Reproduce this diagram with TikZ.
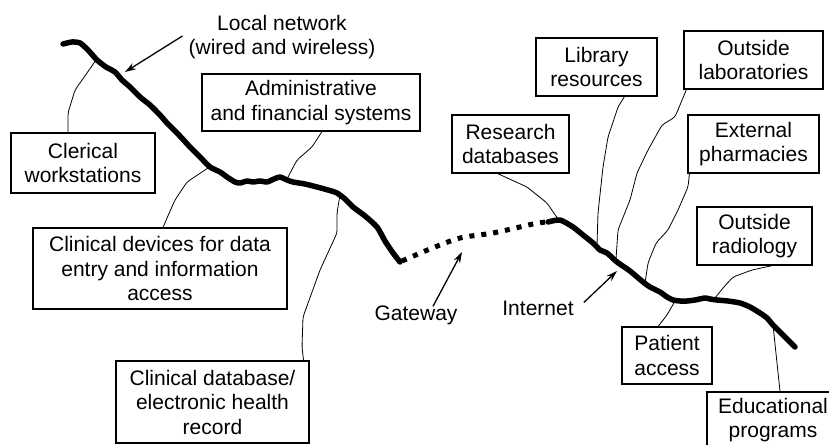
\documentclass[tikz,border=0pt]{standalone}
\usepackage{fontspec}
\setmainfont{Liberation Sans}
\usetikzlibrary{arrows.meta}
\begin{document}
\begin{tikzpicture}[x=1pt,y={(0pt,-1pt)},
  box/.style={draw,line width=1.1pt,align=center,inner sep=0pt,
    font=\fontsize{21}{24.5}\selectfont},
  lbl/.style={align=center,inner sep=1pt,font=\fontsize{21}{24.5}\selectfont},
  conn/.style={line width=0.8pt,rounded corners=3pt},
  net/.style={line width=5.5pt,line cap=round,line join=round},
  gate/.style={line width=5pt,dash pattern=on 5pt off 7pt},
  arr/.style={line width=1.3pt,-{Stealth[length=11pt,width=7pt]}}]
\useasboundingbox (0,0) rectangle (829,444);
\clip (0,0) rectangle (829,444);

% boxes
\node[box,minimum width=144pt,minimum height=60pt] (clerical) at (83,163) {Clerical\\workstations};
\node[box,minimum width=218pt,minimum height=57pt] (admin) at (311,102.5) {Administrative\\and financial systems};
\node[box,minimum width=254pt,minimum height=81pt] (devices) at (160,268.5) {Clinical devices for data\\entry and information\\access};
\node[box,minimum width=193pt,minimum height=82pt] (cdb) at (212.5,402) {Clinical database/\\electronic health\\record};
\node[box,minimum width=117pt,minimum height=58pt] (research) at (510.5,144) {Research\\databases};
\node[box,minimum width=121pt,minimum height=58pt] (library) at (596.5,67) {Library\\resources};
\node[box,minimum width=139pt,minimum height=58pt] (labs) at (753.5,60) {Outside\\laboratories};
\node[box,minimum width=131pt,minimum height=58pt] (pharm) at (753.5,144) {External\\pharmacies};
\node[box,minimum width=115pt,minimum height=58pt] (radio) at (754.5,236) {Outside\\radiology};
\node[box,minimum width=90pt,minimum height=57pt] (patient) at (667,355.5) {Patient\\access};
\node[box,minimum width=132pt,minimum height=56pt] (edu) at (773,420) {Educational\\programs};

% labels
\node[lbl,inner sep=0pt] (lan) at (282,37) {Local network\\(wired and wireless)};
\node[lbl] (gw) at (416,315) {Gateway};
\node[lbl] (inet) at (538,308) {Internet};

% local network
\draw[net] plot[smooth,tension=0.4] coordinates {(63,44) (72,42) (80,43) (88,50) (97,60) (106,67) (115,72) (122,80) (130,87) (140,97) (150,105) (160,115) (167,123) (178,134) (190,147) (200,157) (210,167) (220,172) (227,177) (235,182) (240,183) (247,181) (253,182) (260,181) (267,182) (274,179) (280,177) (287,180) (293,182) (305,184) (317,187) (328,190) (337,193) (345,199) (353,207) (365,216) (377,227) (385,241) (393,253) (400,262)};
% gateway link
\draw[gate] plot[smooth,tension=0.5] coordinates {(402,261) (430,249) (460,238) (493,233) (533,224) (546,222)};
% internet
\draw[net] plot[smooth,tension=0.4] coordinates {(548,222) (560,220) (573,227) (583,235) (593,243) (600,250) (607,253) (617,262) (630,271) (643,282) (650,287) (660,292) (667,297) (673,300) (680,301) (687,301) (695,300) (705,298) (710,299) (717,300) (728,301) (740,303) (750,307) (760,313) (767,318) (773,325) (785,337) (795,347)};

% attachment points on the network
\coordinate (pClerical) at (96,60);
\coordinate (pAdmin) at (287,179);
\coordinate (pDevices) at (208,168);
\coordinate (pCdb) at (340,195);
\coordinate (pResearch) at (558,219);
\coordinate (pLibrary) at (597,245);
\coordinate (pLabs) at (616,259);
\coordinate (pPharm) at (645,283);
\coordinate (pRadio) at (715,298);
\coordinate (pPatient) at (675,301);
\coordinate (pEdu) at (773,325);
\coordinate (aLan) at (125,72);
\coordinate (aGw) at (462,252);
\coordinate (aInet) at (617,271);

% connectors
\draw[conn] ([xshift=-15pt]clerical.north) -- (68,113) -- (75,90) -- (87,73) -- (pClerical);
\draw[conn] ([xshift=11pt]admin.south) -- (312,147) -- (297,160) -- (pAdmin);
\draw[conn] ([xshift=3pt]devices.north) -- (167,218) -- (175,200) -- (187,182) -- (pDevices);
\draw[conn] ([xshift=-6pt]cdb.north east) -- (302,347) -- (303,317) -- (320,270) -- (337,233) -- (337,213) -- (pCdb);
\draw[conn] ([xshift=-13pt]research.south) -- (527,187) -- (547,203) -- (pResearch);
\draw[conn] ([xshift=28pt]library.south) -- (618,107) -- (608,137) -- (603,167) -- (598,213) -- (pLibrary);
\draw[conn] ([xshift=3pt]labs.south west) -- (675,117) -- (662,125) -- (648,150) -- (637,173) -- (630,200) -- (618,230) -- (pLabs);
\draw[conn] ([xshift=2pt]pharm.south west) -- (688,187) -- (678,210) -- (668,230) -- (656,243) -- (648,263) -- (pPharm);
\draw[conn] ([xshift=18pt]radio.south) -- (752,270) -- (733,277) -- (723,288) -- (pRadio);
\draw[conn] ([xshift=-9pt]patient.north) -- (667,315) -- (pPatient);
\draw[conn] ([xshift=7pt]edu.north) -- (pEdu);

% arrows
\draw[arr] ([xshift=-6pt,yshift=1pt]lan.west) -- (aLan);
\draw[arr] ([xshift=17pt,yshift=-2pt]gw.north) -- (aGw);
\draw[arr] ([xshift=9pt,yshift=-3pt]inet.north east) -- (aInet);
\end{tikzpicture}
\end{document}
